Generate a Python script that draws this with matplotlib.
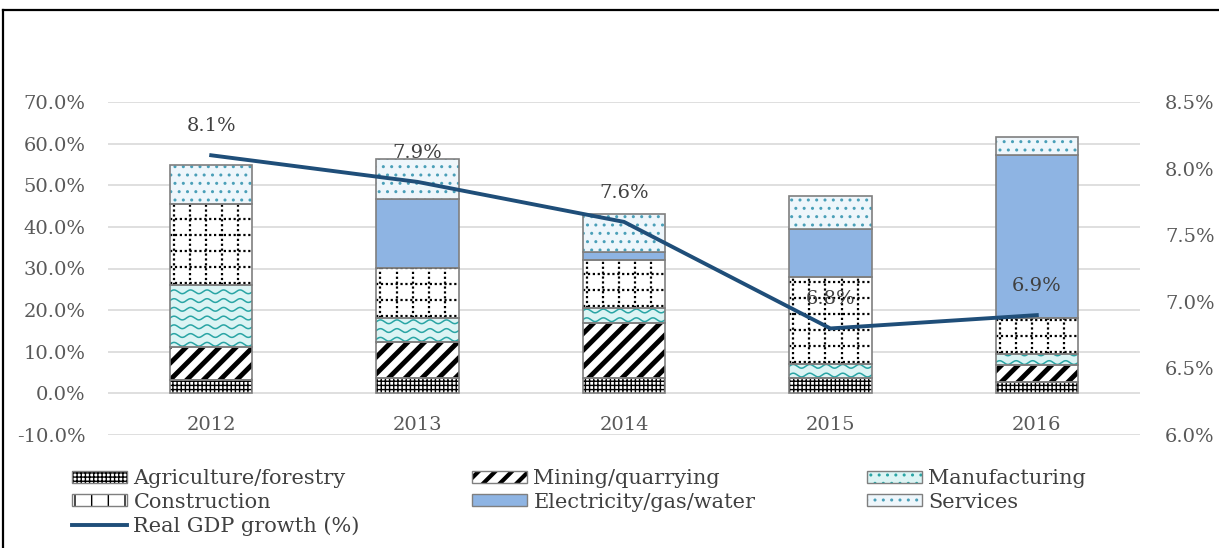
import numpy as np
import matplotlib
matplotlib.use('Agg')
import matplotlib.pyplot as plt
from matplotlib.patches import Patch
from matplotlib.lines import Line2D

years = ['2012', '2013', '2014', '2015', '2016']
# contribution of each sector (percentage points, stacked)
agri = [3.2, 3.7, 3.7, 3.7, 2.7]
mining = [7.9, 8.6, 13.3, 0.0, 4.0]
manuf = [14.9, 5.7, 3.5, 3.4, 2.7]
constr = [19.4, 12.1, 11.5, 20.9, 8.6]
elec = [0.0, 16.7, 2.0, 11.6, 39.2]
services = [9.4, 9.5, 9.2, 7.8, 4.4]
gdp = [8.1, 7.9, 7.6, 6.8, 6.9]

left_ticks = [-10, 0, 10, 20, 30, 40, 50, 60, 70]
right_ticks = [6.0, 6.5, 7.0, 7.5, 8.0, 8.5]

plt.rcParams['font.family'] = ['DejaVu Serif']
W, H = 1219, 548
fig = plt.figure(figsize=(W / 100, H / 100), dpi=100)
ax = fig.add_axes([108 / W, 1 - 435 / H, (1140 - 108) / W, (435 - 102) / H])
ax2 = ax.twinx()

x = np.arange(len(years))
bw = 0.4
edge = '#7f7f7f'
txt = '#595959'
wave_col = '#2aa5a5'


def wave_fill(bar, color):
    # wavy texture clipped to the bar
    x0, y0, w, h = bar.get_x(), bar.get_y(), bar.get_width(), bar.get_height()
    xs = np.linspace(x0, x0 + w, 150)
    for yy in np.arange(y0 + 0.7, y0 + h + 1, 2.1):
        ln, = ax.plot(xs, yy + 0.45 * np.sin((xs - x0) * 2 * np.pi / 0.08),
                      color=color, lw=1.1, zorder=3)
        ln.set_clip_path(bar)


def dot_grid(bar):
    # dotted square grid clipped to the bar
    x0, y0, w, h = bar.get_x(), bar.get_y(), bar.get_width(), bar.get_height()
    for xx in np.arange(x0 + 0.02, x0 + w, 0.078):
        ln, = ax.plot([xx, xx], [y0, y0 + h], color='black', lw=1.6, ls=(0, (1, 1.2)), zorder=3)
        ln.set_clip_path(bar)
    for yy in np.arange(y0 + 0.5, y0 + h, 3.85):
        ln, = ax.plot([x0, x0 + w], [yy, yy], color='black', lw=1.6, ls=(0, (1, 1.2)), zorder=3)
        ln.set_clip_path(bar)


def outline():
    return Patch(facecolor='none', edgecolor=edge, lw=1)


bottom = np.zeros(len(years))

plt.rcParams['hatch.linewidth'] = 1.0
ax.bar(x, agri, bw, bottom=bottom, color='white', edgecolor='black', lw=0, hatch='++++', zorder=2)
ax.bar(x, agri, bw, bottom=bottom, fill=False, edgecolor=edge, lw=1.2, zorder=4)
h_agri = (Patch(facecolor='white', edgecolor='black', hatch='++++', lw=0), outline())
bottom += agri

plt.rcParams['hatch.linewidth'] = 3.5
ax.bar(x, mining, bw, bottom=bottom, color='white', edgecolor='black', lw=0, hatch='//', zorder=2)
ax.bar(x, mining, bw, bottom=bottom, fill=False, edgecolor=edge, lw=1.2, zorder=4)
h_mining = (Patch(facecolor='white', edgecolor='black', hatch='//', lw=0), outline())
bottom += mining

plt.rcParams['hatch.linewidth'] = 1.0
bars = ax.bar(x, manuf, bw, bottom=bottom, color='#dcf4f4', lw=0, zorder=2)
for b in bars:
    wave_fill(b, wave_col)
ax.bar(x, manuf, bw, bottom=bottom, fill=False, edgecolor=edge, lw=1.2, zorder=4)
h_manuf = (Patch(facecolor='#dcf4f4', edgecolor=wave_col, hatch='..', lw=0), outline())
bottom += manuf

bars = ax.bar(x, constr, bw, bottom=bottom, color='white', lw=0, zorder=2)
for b in bars:
    dot_grid(b)
ax.bar(x, constr, bw, bottom=bottom, fill=False, edgecolor=edge, lw=1.2, zorder=4)
h_constr = (Patch(facecolor='white', edgecolor='black', hatch='+', lw=0), outline())
bottom += constr

ax.bar(x, elec, bw, bottom=bottom, color='#8eb4e3', edgecolor=edge, lw=1.2, zorder=2)
h_elec = Patch(facecolor='#8eb4e3', edgecolor=edge, lw=1)
bottom += elec

ax.bar(x, services, bw, bottom=bottom, color='#eef6fb', edgecolor='#4a9fb8', lw=0, hatch='..', zorder=2)
ax.bar(x, services, bw, bottom=bottom, fill=False, edgecolor=edge, lw=1.2, zorder=4)
h_serv = (Patch(facecolor='#eef6fb', edgecolor='#4a9fb8', hatch='..', lw=0), outline())

ax.set_xlim(-0.5, 4.5)
ax.set_ylim(-10, 70)
ax.set_yticks(left_ticks)
ax.set_yticklabels(['%.1f%%' % v for v in left_ticks])
ax.set_xticks(x)
ax.set_xticklabels(years)
ax.spines['bottom'].set_position(('data', 0))
for s in ax.spines.values():
    s.set_visible(False)
for s in ax2.spines.values():
    s.set_visible(False)
ax.grid(axis='y', color='#d9d9d9', lw=1.2, zorder=0)
ax.set_axisbelow(True)
ax.tick_params(axis='y', length=0, pad=16, labelsize=14, labelcolor=txt)
ax.tick_params(axis='x', length=0, pad=16, labelsize=14, labelcolor=txt)

ax2.plot(x, gdp, color='#1f4e79', lw=2.8, zorder=5)
ax2.set_ylim(6.0, 8.5)
ax2.set_yticks(right_ticks)
ax2.set_yticklabels(['%.1f%%' % v for v in right_ticks])
ax2.tick_params(axis='y', length=0, pad=18, labelsize=14, labelcolor=txt)
for xi, v in zip(x, gdp):
    ax2.annotate('%.1f%%' % v, (xi, v), xytext=(0, 21), textcoords='offset points',
                 ha='center', va='center', fontsize=14, color='#404040')

# legend, three columns (mining column needs the thick hatch lines)
h_gdp = Line2D([], [], color='#1f4e79', lw=2.8)
cols = [
    ([h_agri, h_constr, h_gdp], ['Agriculture/forestry', 'Construction', 'Real GDP growth (%)'], 72, 1.0),
    ([h_mining, h_elec], ['Mining/quarrying', 'Electricity/gas/water'], 472, 3.0),
    ([h_manuf, h_serv], ['Manufacturing', 'Services'], 867, 1.0),
]
for hs, ls, px, hlw in cols:
    plt.rcParams['hatch.linewidth'] = hlw
    leg = fig.legend(hs, ls, loc='upper left', bbox_to_anchor=(px / W, 1 - 469 / H),
                     frameon=False, fontsize=15, handlelength=2.65, handleheight=0.5,
                     handletextpad=0.3, labelspacing=0.22, borderpad=0, borderaxespad=0)
    for t in leg.get_texts():
        t.set_color('#404040')
plt.rcParams['hatch.linewidth'] = 1.0

# outer frame (top and left edges)
fig.add_artist(Line2D([3 / W, 3 / W], [0, 1 - 10 / H], color='black', lw=1.6))
fig.add_artist(Line2D([3 / W, 1], [1 - 10 / H, 1 - 10 / H], color='black', lw=1.6))

fig.savefig('out.png', dpi=100)
